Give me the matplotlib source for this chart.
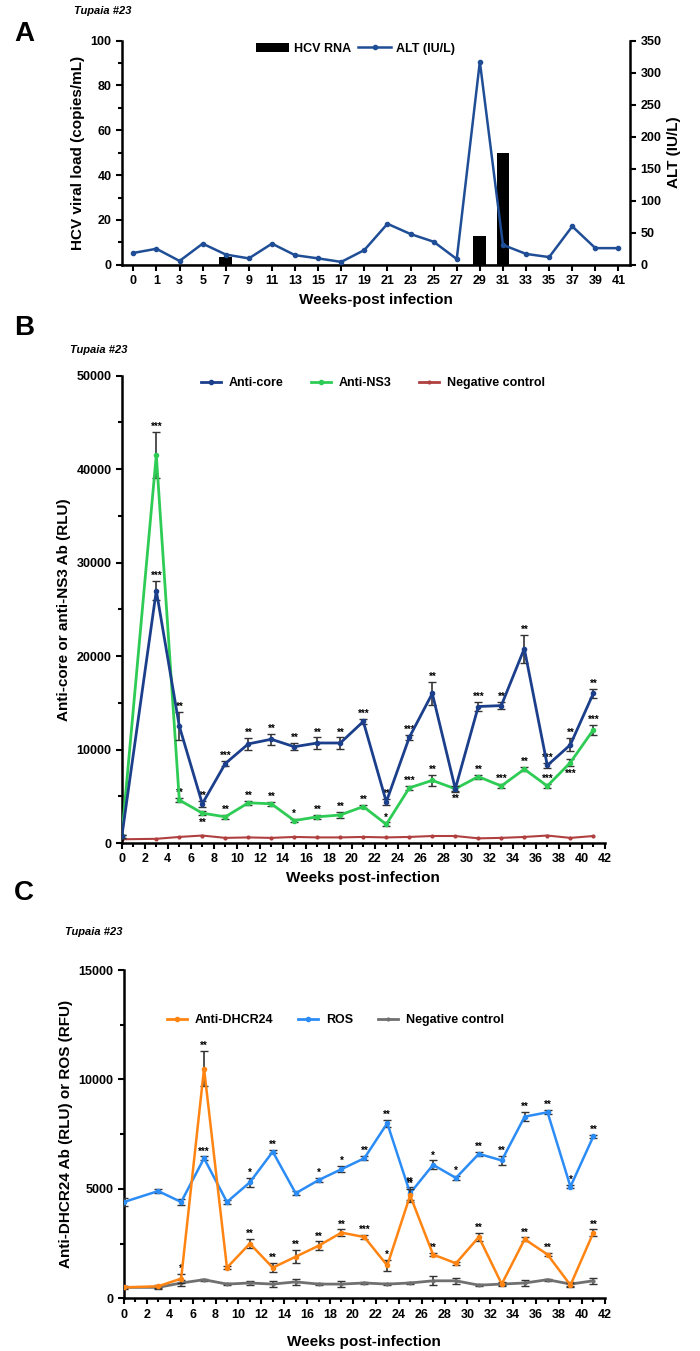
import matplotlib
matplotlib.use("Agg")
import matplotlib.pyplot as plt
from matplotlib.ticker import MultipleLocator
from matplotlib.lines import Line2D

plt.rcParams["font.family"] = ["Liberation Sans Narrow", "Liberation Sans", "DejaVu Sans"]
plt.rcParams["font.weight"] = "bold"
plt.rcParams["axes.labelweight"] = "bold"
plt.rcParams["font.size"] = 9

# ---- Panel A data ----
weeks_a = ["0", "1", "3", "5", "7", "9", "11", "13", "15", "17", "19", "21",
           "23", "25", "27", "29", "31", "33", "35", "37", "39", "41"]
hcv_rna = [0, 0, 0, 0, 3.5, 0, 0, 0, 0, 0, 0, 0, 0, 0, 0, 12.8, 50, 0, 0, 0, 0, 0]
alt = [18.5, 25, 6, 33, 16, 10, 33, 15, 10, 4.5, 23, 64, 48, 36, 9, 317, 31, 17, 12, 60, 26, 26]

# ---- Panel B data ----
weeks_b = [0, 3, 5, 7, 9, 11, 13, 15, 17, 19, 21, 23, 25, 27, 29, 31, 33, 35, 37, 39, 41]
anti_core = [700, 27000, 12500, 4200, 8500, 10600, 11100, 10300, 10700, 10700, 13000,
             4400, 11300, 16000, 5800, 14600, 14700, 20800, 8300, 10500, 16000]
anti_core_err = [200, 1000, 1500, 300, 300, 600, 600, 400, 600, 600, 300,
                 300, 300, 1200, 300, 500, 400, 1500, 300, 700, 500]
anti_core_sig = ["", "***", "**", "**", "***", "**", "**", "**", "**", "**", "***",
                 "**", "***", "**", "", "***", "**", "**", "***", "**", "**"]
anti_ns3 = [700, 41500, 4600, 3200, 2800, 4300, 4200, 2400, 2800, 3000, 3900,
            2000, 5900, 6700, 5800, 7100, 6100, 7900, 6100, 8600, 12100]
anti_ns3_err = [200, 2500, 200, 200, 200, 200, 200, 200, 200, 300, 200,
                200, 200, 600, 200, 200, 200, 200, 200, 400, 500]
anti_ns3_sig = ["", "***", "**", "**", "**", "**", "**", "*", "**", "**", "**",
                "*", "***", "**", "**", "**", "***", "**", "***", "***", "***"]
neg_b = [400, 450, 650, 800, 550, 600, 550, 650, 600, 600, 650,
         600, 650, 750, 750, 500, 550, 650, 800, 550, 750]

# ---- Panel C data ----
weeks_c = weeks_b
dhcr24 = [500, 550, 900, 10500, 1400, 2500, 1400, 1900, 2400, 3000, 2800,
          1500, 4700, 2000, 1600, 2800, 650, 2700, 2000, 600, 3000]
dhcr24_err = [80, 80, 200, 800, 80, 200, 200, 300, 200, 150, 80,
              250, 300, 80, 80, 200, 80, 80, 80, 100, 150]
dhcr24_sig = ["", "", "*", "**", "", "**", "**", "**", "**", "**", "***",
              "*", "**", "**", "", "**", "", "**", "**", "", "**"]
ros = [4400, 4900, 4400, 6400, 4400, 5300, 6700, 4800, 5400, 5900, 6400,
       8000, 4800, 6100, 5500, 6600, 6300, 8300, 8500, 5100, 7400]
ros_err = [200, 80, 150, 80, 80, 200, 80, 100, 100, 150, 100,
           150, 300, 200, 80, 80, 200, 200, 100, 80, 80]
ros_sig = ["", "", "", "***", "", "*", "**", "", "*", "*", "**",
           "**", "**", "*", "*", "**", "**", "**", "**", "*", "**"]
neg_c = [500, 500, 700, 850, 650, 700, 650, 750, 650, 650, 700,
         650, 700, 800, 800, 600, 650, 700, 850, 650, 800]
neg_c_err = [50, 80, 150, 50, 50, 100, 150, 150, 50, 150, 50,
             50, 50, 200, 150, 50, 50, 150, 50, 100, 150]

fig = plt.figure(figsize=(7, 13.51), dpi=100)


def style_axes(ax):
    ax.spines["top"].set_visible(False)
    ax.spines["right"].set_visible(False)
    for s in ("left", "bottom"):
        ax.spines[s].set_linewidth(1.8)
    ax.tick_params(width=1.5, length=4, labelsize=9)
    ax.tick_params(which="minor", width=1.5, length=3)


def proxy(color, ms=3):
    return Line2D([], [], color=color, lw=2, marker="o", ms=ms)


# ---------------- Panel A ----------------
axA = fig.add_axes([0.174, 0.804, 0.726, 0.166])
xa = list(range(len(weeks_a)))
axA.axhline(0, color="#aaaaaa", lw=2, zorder=1)
bars = axA.bar(xa, hcv_rna, width=0.55, color="black", label="HCV RNA", zorder=2)
axA.set_xlim(-0.5, len(weeks_a) - 0.5)
axA.set_ylim(0, 100)
axA.yaxis.set_major_locator(MultipleLocator(20))
axA.yaxis.set_minor_locator(MultipleLocator(10))
axA.set_xticks(xa)
axA.set_xticklabels(weeks_a, fontsize=10)
axA.set_ylabel("HCV viral load (copies/mL)", fontsize=11)
axA.set_xlabel("Weeks-post infection", fontsize=11)
style_axes(axA)

axA2 = axA.twinx()
line_alt, = axA2.plot(xa, alt, color="#1f4e96", lw=1.8, marker="o", ms=3, label="ALT (IU/L)")
axA2.set_ylim(0, 350)
axA2.yaxis.set_major_locator(MultipleLocator(50))
axA2.spines["top"].set_visible(False)
axA2.spines["left"].set_visible(False)
axA2.spines["bottom"].set_visible(False)
axA2.spines["right"].set_linewidth(1.8)
axA2.tick_params(width=1.5, length=4, labelsize=9)
axA2.set_ylabel("ALT (IU/L)", fontsize=11)
axA.legend([bars, line_alt], ["HCV RNA", "ALT (IU/L)"], ncol=2, loc="upper center",
           bbox_to_anchor=(0.46, 1.04), frameon=False, fontsize=9,
           handlelength=2.6, columnspacing=0.6, handletextpad=0.4)

fig.text(0.02, 0.975, "A", fontsize=20, fontweight="bold", va="center")
fig.text(0.105, 0.992, "Tupaia #23", fontsize=8, style="italic", va="center")


def annotate_sig(ax, xs, ys, errs, sigs, below=()):
    for i, (x, y, e, s) in enumerate(zip(xs, ys, errs, sigs)):
        if not s:
            continue
        if i in below:
            ax.annotate(s, (x, y - e), xytext=(0, -2), textcoords="offset points",
                        ha="center", va="top", fontsize=7)
        else:
            ax.annotate(s, (x, y + e), xytext=(0, 0), textcoords="offset points",
                        ha="center", va="bottom", fontsize=7)


# ---------------- Panel B ----------------
axB = fig.add_axes([0.174, 0.376, 0.69, 0.346])
axB.plot(weeks_b, neg_b, color="#b04040", lw=1.5, marker="o", ms=2, zorder=2)
axB.errorbar(weeks_b, anti_ns3, yerr=anti_ns3_err, color="#2ecc55", lw=2, marker="o", ms=3,
             ecolor="#333333", elinewidth=1.2, capsize=3, zorder=3)
axB.errorbar(weeks_b, anti_core, yerr=anti_core_err, color="#1c3f8c", lw=2, marker="o", ms=3,
             ecolor="#333333", elinewidth=1.2, capsize=3, zorder=4)
annotate_sig(axB, weeks_b, anti_core, anti_core_err, anti_core_sig)
annotate_sig(axB, weeks_b, anti_ns3, anti_ns3_err, anti_ns3_sig, below=(3, 14, 19))
axB.set_xlim(0, 42)
axB.set_ylim(0, 50000)
axB.xaxis.set_major_locator(MultipleLocator(2))
axB.xaxis.set_minor_locator(MultipleLocator(1))
axB.yaxis.set_major_locator(MultipleLocator(10000))
axB.yaxis.set_minor_locator(MultipleLocator(5000))
axB.set_ylabel("Anti-core or anti-NS3 Ab (RLU)", fontsize=11)
axB.set_xlabel("Weeks post-infection", fontsize=11)
style_axes(axB)
axB.legend([proxy("#1c3f8c"), proxy("#2ecc55"), proxy("#b04040", 2)],
           ["Anti-core", "Anti-NS3", "Negative control"], ncol=3, loc="upper center",
           bbox_to_anchor=(0.52, 1.02), frameon=False, fontsize=9,
           handlelength=1.6, columnspacing=2.2, handletextpad=0.6)

fig.text(0.02, 0.757, "B", fontsize=20, fontweight="bold", va="center")
fig.text(0.1, 0.741, "Tupaia #23", fontsize=8, style="italic", va="center")

# ---------------- Panel C ----------------
axC = fig.add_axes([0.177, 0.039, 0.687, 0.243])
axC.errorbar(weeks_c, neg_c, yerr=neg_c_err, color="#707070", lw=2, marker="o", ms=2,
             ecolor="#333333", elinewidth=1.2, capsize=3, zorder=2)
axC.errorbar(weeks_c, ros, yerr=ros_err, color="#2b8cf5", lw=1.8, marker="o", ms=3,
             ecolor="#333333", elinewidth=1.2, capsize=3, zorder=3)
axC.errorbar(weeks_c, dhcr24, yerr=dhcr24_err, color="#ff8412", lw=1.8, marker="o", ms=3,
             ecolor="#333333", elinewidth=1.2, capsize=3, zorder=4)
annotate_sig(axC, weeks_c, dhcr24, dhcr24_err, dhcr24_sig)
annotate_sig(axC, weeks_c, ros, ros_err, ros_sig)
axC.set_xlim(0, 42)
axC.set_ylim(0, 15000)
axC.xaxis.set_major_locator(MultipleLocator(2))
axC.xaxis.set_minor_locator(MultipleLocator(1))
axC.yaxis.set_major_locator(MultipleLocator(5000))
axC.yaxis.set_minor_locator(MultipleLocator(2500))
axC.set_ylabel("Anti-DHCR24 Ab (RLU) or ROS (RFU)", fontsize=11)
axC.set_xlabel("Weeks post-infection", fontsize=11, labelpad=10)
style_axes(axC)
axC.legend([proxy("#ff8412"), proxy("#2b8cf5"), proxy("#707070", 2)],
           ["Anti-DHCR24", "ROS", "Negative control"], ncol=3, loc="upper center",
           bbox_to_anchor=(0.44, 0.9), frameon=False, fontsize=9,
           handlelength=1.6, columnspacing=2.0, handletextpad=0.6)

fig.text(0.02, 0.339, "C", fontsize=20, fontweight="bold", va="center")
fig.text(0.093, 0.31, "Tupaia #23", fontsize=8, style="italic", va="center")

fig.savefig("out.png", dpi=100)
